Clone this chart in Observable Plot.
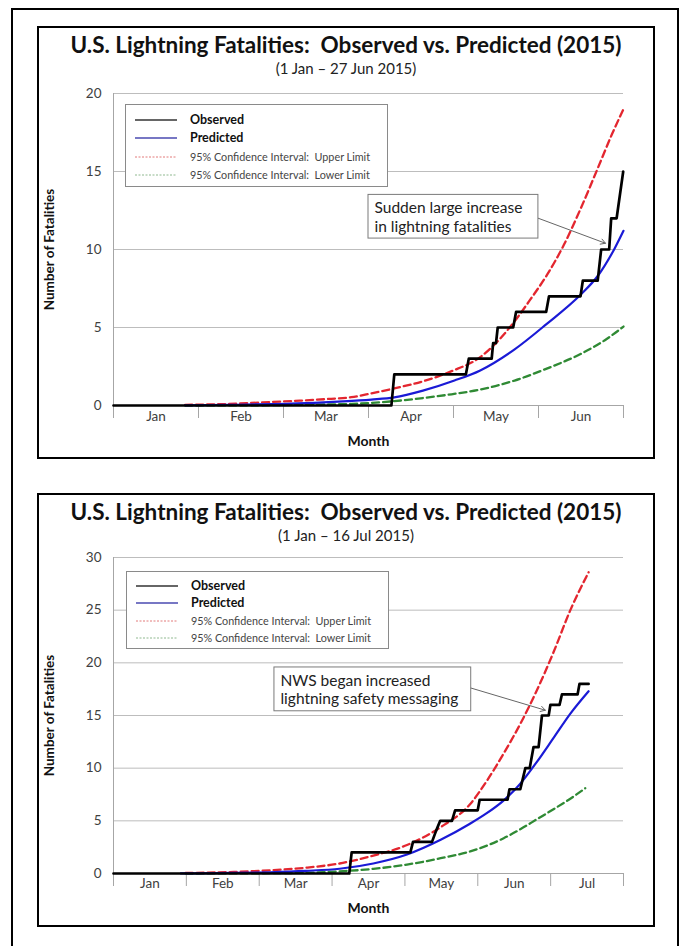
<!DOCTYPE html>
<html><head><meta charset="utf-8">
<script src="https://cdn.jsdelivr.net/npm/d3@7"></script>
<script src="https://cdn.jsdelivr.net/npm/@observablehq/plot@0.6"></script>
<style>
body{margin:0;background:#fff;font-family:Lato,"Open Sans",sans-serif;}
#page{position:relative;width:683px;height:946px;overflow:hidden;background:#fff;}
.outer{position:absolute;left:11px;top:8px;width:664px;height:980px;border:2px solid #000;}
.panel{position:absolute;left:37px;width:614px;border:2px solid #000;}
.title{position:absolute;left:37px;width:618px;text-align:center;font-weight:bold;font-size:22.5px;white-space:pre;color:#111;line-height:1;}
.sub{position:absolute;left:37px;width:618px;text-align:center;font-size:15px;color:#222;line-height:1;white-space:pre;}
.chart{position:absolute;left:37px;}
.legend{position:absolute;border:1px solid #8a8a8a;background:#fff;}
.lrow{position:absolute;left:0;height:0;}
.lrow svg{position:absolute;left:9px;top:-3px;}
.lrow span{position:absolute;left:64px;top:0;transform:translateY(-50%);white-space:pre;line-height:1;}
</style></head>
<body><div id="page"></div>
<script>
// ---------- data: top chart (1 Jan - 27 Jun 2015), x = day of year (Jan 1 = 0)
const months6 = ["Jan","Feb","Mar","Apr","May","Jun"];
const months7 = ["Jan","Feb","Mar","Apr","May","Jun","Jul"];

const topObsDay = [0,97,98,123,124,132,132.5,133.5,134.1,139.5,140.5,151,152,163,163.8,169,170.2,173,173.7,175.6,177.9];
const topObsVal = [0,0,2,2,3,3,4,4,5,5,6,6,7,7,8,8,10,10,12,12,15];
const topPredDay = [25,40,55,70,80,90,98,108,119,128,140,151,163,169,175,178];
const topPredVal = [0.01,0.04,0.09,0.17,0.26,0.38,0.52,0.95,1.6,2.25,3.6,5.2,7.1,8.3,10.1,11.2];
const topUpperDay = [25,40,52,65,75,83,90,98,108,118,128,135,140,145.5,151.4,157.2,163,169,174,178];
const topUpperVal = [0.04,0.1,0.2,0.31,0.42,0.53,0.78,1.1,1.55,2.2,3.1,4.3,5.4,6.8,8.4,10.3,12.6,15.2,17.4,19.0];
const topLowerDay = [25,45,60,75,83,98,108,118,128,140,151,163,172,178];
const topLowerVal = [0,0.01,0.03,0.07,0.1,0.28,0.48,0.72,1.02,1.6,2.35,3.3,4.25,5.06];
const topYTicks = [0,5,10,15,20];

// ---------- data: bottom chart (1 Jan - 16 Jul 2015)
const botObsDay = [0,98,99,123.4,124.5,132.4,134,135.8,140.7,142,151.4,152.2,163.8,164.6,169.1,171.2,173,174.6,176.7,178.1,180.9,181.6,185.4,186.4,192.9,193.7,197.5];
const botObsVal = [0,0,2,2,3,3,4,5,5,6,6,7,7,8,8,10,10,12,12,15,15,16,16,17,17,18,18];
const botPredDay = [28,50,65,80,94,108,122,136,148,155,162,169,176,183,190,197.5];
const botPredVal = [0.01,0.05,0.12,0.25,0.45,0.95,1.8,3.2,4.7,5.7,6.9,8.5,10.6,12.9,15.2,17.3];
const botUpperDay = [30,50,65,80,94,108,122,136,148.3,155.2,162.2,169.1,176,182.9,189.9,197.5];
const botUpperVal = [0.05,0.15,0.3,0.55,0.95,1.7,2.7,4.4,6.6,8.8,11.4,14.2,17.4,21.0,25.0,28.6];
const botLowerDay = [30,60,80,94,108,122,136,148.3,155.2,162.2,169.1,176,182.9,189.9,196.1];
const botLowerVal = [0,0.02,0.07,0.2,0.44,0.85,1.45,2.1,2.65,3.35,4.2,5.15,6.1,7.1,8.1];
const botYTicks = [0,5,10,15,20,25,30];

const titleText = "U.S. Lightning Fatalities:  Observed vs. Predicted (2015)";
const topSub = "(1 Jan \u2013 27 Jun 2015)";
const botSub = "(1 Jan \u2013 16 Jul 2015)";
const topNote = {text: "Sudden large increase\nin lightning fatalities", day: 171.7, value: 10.4};
const botNote = {text: "NWS began increased\nlightning safety messaging", day: 179.5, value: 15.5};

const legendLabels = ["Observed","Predicted","95% Confidence Interval:  Upper Limit","95% Confidence Interval:  Lower Limit"];

// ---------- styles
const C = {obs:"#000000", pred:"#1a1ad6", up:"#e3262f", low:"#2f8a34", grid:"#bdbdbd", axis:"#a6a6a6", label:"#404040"};

const zip = (d, v) => d.map((x, i) => ({day: x, value: v[i]}));

function chart(o) {
  const seg = o.xMax / o.months.length;
  const bounds = d3.range(o.months.length + 1).map(i => i * seg);
  return Plot.plot({
    width: 618, height: o.height,
    marginLeft: 76, marginRight: 32, marginTop: o.mt, marginBottom: o.mb,
    x: {domain: [0, o.xMax], label: null},
    y: {domain: [0, o.yMax], label: null},
    style: {fontFamily: "Lato, 'Open Sans', sans-serif", fontSize: "13px", background: "transparent", overflow: "visible"},
    marks: [
      Plot.gridY(o.yTicks, {stroke: C.grid, strokeOpacity: 1}),
      Plot.ruleX([0], {stroke: C.axis}),
      Plot.ruleY([0], {stroke: C.axis}),
      Plot.axisX(bounds, {tickSize: o.tickLen, tickFormat: () => "", stroke: C.axis, label: null}),
      Plot.axisY(o.yTicks, {tickSize: 0, tickPadding: 12, label: null, fill: C.label, fontSize: 13.5}),
      Plot.text(o.months, {x: (d, i) => (i + 0.5) * seg, frameAnchor: "bottom", dy: o.monthDy, fill: C.label, fontSize: 13.5}),
      Plot.text(["Month"], {frameAnchor: "bottom", dy: o.titleDy, fontWeight: "bold", fontSize: 14, fill: "#111"}),
      Plot.text(["Number of Fatalities"], {frameAnchor: "left", textAnchor: "middle", rotate: -90, dx: -64, fontWeight: "bold", fontSize: 13.5, fill: "#111"}),
      Plot.line(zip(o.lowD, o.lowV), {x: "day", y: "value", stroke: C.low, strokeWidth: 2.3, strokeDasharray: "7,4", curve: "monotone-x"}),
      Plot.line(zip(o.upD, o.upV), {x: "day", y: "value", stroke: C.up, strokeWidth: 2.3, strokeDasharray: "7,4", curve: "monotone-x"}),
      Plot.line(zip(o.predD, o.predV), {x: "day", y: "value", stroke: C.pred, strokeWidth: 2.2, curve: "monotone-x"}),
      Plot.line(zip(o.obsD, o.obsV), {x: "day", y: "value", stroke: C.obs, strokeWidth: 2.7}),
      Plot.rect([o.note], {x1: o.box[0], x2: o.box[1], y1: o.box[2], y2: o.box[3], fill: "white", stroke: "#7a7a7a", strokeWidth: 1}),
      Plot.text([o.note], {x: o.box[0], y: o.box[3], text: "text", textAnchor: "start", lineAnchor: "top", dx: 6, dy: 5, fontSize: 15.5, lineHeight: 1.2, fill: "#222"}),
      Plot.arrow([o.note], {x1: o.box[1], y1: o.arrowFrom, x2: "day", y2: "value", stroke: "#666", strokeWidth: 1, headLength: 8})
    ]
  });
}

function legend(left, top, w, h, rowsY) {
  const L = document.createElement("div");
  L.className = "legend";
  Object.assign(L.style, {left: left + "px", top: top + "px", width: w + "px", height: h + "px"});
  const styles = [
    {stroke: "#333", w: 1.6, dash: null, bold: true},
    {stroke: "#4a4ab0", w: 1.6, dash: null, bold: true},
    {stroke: "#e27a7a", w: 1, dash: "2,1.5", bold: false},
    {stroke: "#8fb88f", w: 1, dash: "2,1.5", bold: false}
  ];
  legendLabels.forEach((lab, i) => {
    const r = document.createElement("div");
    r.className = "lrow";
    r.style.top = rowsY[i] + "px";
    const s = styles[i];
    r.innerHTML = `<svg width="44" height="6"><line x1="0" x2="42" y1="3" y2="3" stroke="${s.stroke}" stroke-width="${s.w}" ${s.dash ? `stroke-dasharray="${s.dash}"` : ""}/></svg>` +
      `<span style="font-size:${s.bold ? 12.5 : 10.8}px;font-weight:${s.bold ? "bold" : "normal"};color:${s.bold ? "#111" : "#444"}">${lab}</span>`;
    L.appendChild(r);
  });
  return L;
}

function el(cls, css, text) {
  const d = document.createElement("div");
  d.className = cls;
  Object.assign(d.style, css);
  if (text) d.textContent = text;
  return d;
}

const page = document.getElementById("page");
page.appendChild(el("outer", {}));
page.appendChild(el("panel", {top: "26px", height: "429px"}));
page.appendChild(el("panel", {top: "493px", height: "430px"}));

// top panel
page.appendChild(el("title", {top: "34px"}, titleText));
page.appendChild(el("sub", {top: "61px"}, topSub));
const c1 = chart({height: 375, mt: 13, mb: 50, xMax: 178, yMax: 20, months: months6, yTicks: topYTicks, tickLen: 13, monthDy: 15, titleDy: 40,
  obsD: topObsDay, obsV: topObsVal, predD: topPredDay, predV: topPredVal, upD: topUpperDay, upV: topUpperVal, lowD: topLowerDay, lowV: topLowerVal,
  note: topNote, box: [89, 148.3, 10.7, 13.5], arrowFrom: 12.0});
const w1 = el("chart", {top: "80px"}); w1.appendChild(c1); page.appendChild(w1);
page.appendChild(legend(125, 104, 261, 81, [15, 33, 52, 70]));

// bottom panel
page.appendChild(el("title", {top: "501px"}, titleText));
page.appendChild(el("sub", {top: "528px"}, botSub));
const c2 = chart({height: 380, mt: 17, mb: 47, xMax: 212, yMax: 30, months: months7, yTicks: botYTicks, tickLen: 13, monthDy: 14, titleDy: 39,
  obsD: botObsDay, obsV: botObsVal, predD: botPredDay, predV: botPredVal, upD: botUpperDay, upV: botUpperVal, lowD: botLowerDay, lowV: botLowerVal,
  note: botNote, box: [66.9, 148.7, 15.4, 19.56], arrowFrom: 17.6});
const w2 = el("chart", {top: "540px"}); w2.appendChild(c2); page.appendChild(w2);
page.appendChild(legend(126, 571, 261, 76, [14, 31, 49, 66]));
</script>
</body></html>
